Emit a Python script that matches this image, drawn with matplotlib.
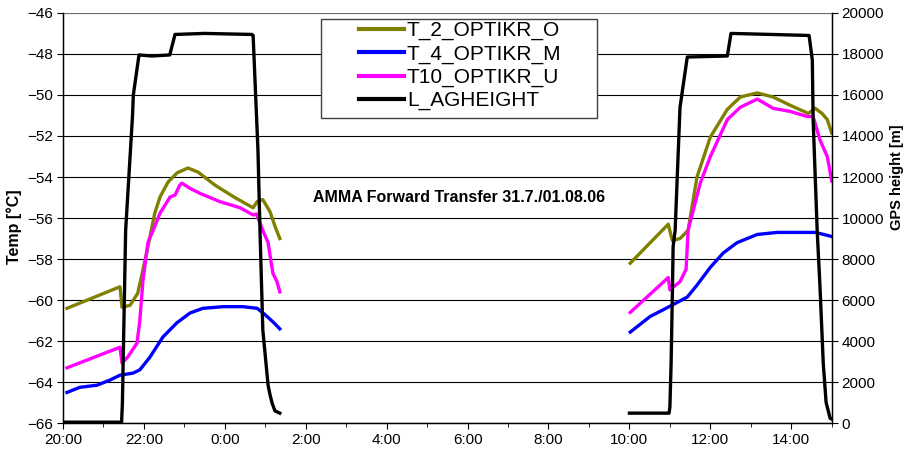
import numpy as np
import matplotlib
matplotlib.use('Agg')
import matplotlib.pyplot as plt
from matplotlib.ticker import MultipleLocator, FuncFormatter
from matplotlib.patches import Rectangle

plt.rcParams['font.family'] = ['Liberation Sans', 'DejaVu Sans']

# time axis: hours after 20:00 on 31.7. (0 .. 19 -> 20:00 .. 15:00)
t_o1 = [0.1, 1.41, 1.46, 1.66, 1.85, 1.98, 2.1, 2.27, 2.4, 2.6, 2.82, 3.09, 3.34, 3.76, 4.25, 4.7, 4.8, 4.94, 5.12, 5.24, 5.36]
T_o1 = [-60.4, -59.35, -60.35, -60.25, -59.66, -58.5, -57.4, -55.76, -54.97, -54.24, -53.8, -53.56, -53.76, -54.4, -55.0, -55.5, -55.2, -55.1, -55.7, -56.4, -57.0]
t_o2 = [14.02, 14.96, 15.06, 15.25, 15.45, 15.67, 16.0, 16.42, 16.74, 17.16, 17.55, 17.97, 18.42, 18.59, 18.76, 18.89, 19.0]
T_o2 = [-58.2, -56.3, -57.1, -57.0, -56.6, -54.0, -52.05, -50.7, -50.1, -49.9, -50.1, -50.5, -50.9, -50.65, -50.9, -51.2, -51.86]

t_u1 = [0.1, 1.41, 1.46, 1.6, 1.83, 1.9, 1.98, 2.1, 2.27, 2.4, 2.65, 2.77, 2.89, 2.94, 3.14, 3.39, 3.88, 4.38, 4.7, 4.78, 4.94, 5.07, 5.19, 5.29, 5.36]
T_u1 = [-63.3, -62.3, -63.07, -62.78, -62.1, -61.0, -59.0, -57.2, -56.4, -55.76, -54.97, -54.88, -54.39, -54.3, -54.55, -54.8, -55.2, -55.5, -55.85, -55.8, -56.6, -57.2, -58.7, -59.1, -59.6]
t_u2 = [14.02, 14.96, 15.0, 15.25, 15.4, 15.45, 15.75, 16.0, 16.42, 16.74, 17.16, 17.55, 17.97, 18.39, 18.54, 18.71, 18.89, 19.0]
T_u2 = [-60.6, -58.9, -59.5, -59.1, -58.5, -56.6, -54.3, -53.0, -51.2, -50.6, -50.2, -50.65, -50.8, -51.05, -51.05, -52.2, -53.0, -54.2]

t_m1 = [0.1, 0.42, 0.84, 1.16, 1.41, 1.73, 1.9, 2.15, 2.47, 2.82, 3.14, 3.46, 3.96, 4.45, 4.8, 4.99, 5.19, 5.36]
T_m1 = [-64.5, -64.25, -64.15, -63.9, -63.66, -63.56, -63.4, -62.78, -61.8, -61.1, -60.63, -60.4, -60.32, -60.32, -60.4, -60.7, -61.06, -61.4]
t_m2 = [14.02, 14.51, 15.06, 15.43, 15.67, 16.0, 16.32, 16.66, 17.16, 17.65, 18.22, 18.6, 19.0]
T_m2 = [-61.56, -60.8, -60.24, -59.85, -59.27, -58.4, -57.7, -57.2, -56.8, -56.7, -56.7, -56.7, -56.9]

t_h1 = [0.0, 1.45, 1.47, 1.55, 1.72, 1.74, 1.88, 2.2, 2.64, 2.77, 3.5, 4.67, 4.7, 4.82, 4.87, 4.94, 5.07, 5.12, 5.17, 5.24, 5.36]
H_h1 = [50, 50, 1000, 9400, 15000, 16000, 17950, 17900, 17950, 18950, 19000, 18950, 18900, 13300, 9400, 4540, 1850, 1370, 975, 600, 490]
t_h2 = [14.0, 14.98, 15.0, 15.03, 15.06, 15.08, 15.13, 15.25, 15.43, 16.42, 16.51, 17.5, 18.44, 18.52, 18.54, 18.64, 18.71, 18.79, 18.86, 18.96, 19.0]
H_h2 = [490, 490, 780, 2930, 6150, 8600, 9400, 15400, 17850, 17900, 19000, 18950, 18900, 17700, 14800, 9400, 6630, 2930, 1020, 240, 200]

fig = plt.figure(figsize=(9.12, 4.61), dpi=100)
ax = fig.add_axes([0.069, 0.082, 0.843, 0.890])
ax2 = ax.twinx()

lw = 2.4
l1, = ax.plot(t_o1, T_o1, color='#808000', lw=lw, label='T_2_OPTIKR_O')
ax.plot(t_o2, T_o2, color='#808000', lw=lw)
l2, = ax.plot(t_m1, T_m1, color='#0000ff', lw=lw, label='T_4_OPTIKR_M')
ax.plot(t_m2, T_m2, color='#0000ff', lw=lw)
l3, = ax.plot(t_u1, T_u1, color='#ff00ff', lw=lw, label='T10_OPTIKR_U')
ax.plot(t_u2, T_u2, color='#ff00ff', lw=lw)
l4, = ax2.plot(t_h1, H_h1, color='black', lw=lw, label='L_AGHEIGHT')
ax2.plot(t_h2, H_h2, color='black', lw=lw)

ax.set_xlim(0, 19)
ax.set_ylim(-66, -46)
ax2.set_ylim(0, 20000)

ax.xaxis.set_major_locator(MultipleLocator(2))
ax.xaxis.set_minor_locator(MultipleLocator(1))
ax.xaxis.set_major_formatter(FuncFormatter(lambda v, p: '%d:00' % ((20 + int(round(v))) % 24)))
ax.yaxis.set_major_locator(MultipleLocator(2))
ax2.yaxis.set_major_locator(MultipleLocator(2000))

for a in (ax, ax2):
    a.tick_params(which='both', direction='out', labelsize=11, color='black')
    a.tick_params(which='major', length=4, pad=3)
    a.tick_params(which='minor', length=3)
    a.spines['top'].set_visible(False)
ax.spines['left'].set_linewidth(1.0)
ax.spines['bottom'].set_linewidth(1.0)
ax2.spines['right'].set_linewidth(1.0)

ax.grid(axis='y', color='black', lw=0.8)
ax.set_axisbelow(True)
ax.axhline(-46, color='#808080', lw=1.2)

ax.set_ylabel('Temp [°C]', fontsize=11.5, fontweight='bold')
ax.yaxis.set_label_coords(-0.053, 0.478)
ax2.set_ylabel('GPS height [m]', fontsize=10.5, fontweight='bold')
ax2.yaxis.set_label_coords(1.076, 0.60)

ax.text(9.8, -55.0, 'AMMA Forward Transfer 31.7./01.08.06', fontsize=11.5,
        fontweight='bold', ha='center', va='center')

# legend frame drawn as its own box so it can be wider than the entries
box = Rectangle((321 / 912, 1 - 118 / 461), 276 / 912, 99 / 461,
                transform=fig.transFigure, facecolor='white',
                edgecolor='#404040', lw=1.0, zorder=5)
ax2.add_patch(box)
leg = ax2.legend(handles=[l1, l2, l3, l4], loc='upper left',
                 bbox_to_anchor=(359 / 912, 1 - 21 / 461),
                 bbox_transform=fig.transFigure, fontsize=15, frameon=False,
                 borderpad=0, labelspacing=0.2, handlelength=2.15,
                 handletextpad=0.15, borderaxespad=0)
leg.set_zorder(6)
for h in leg.legend_handles:
    h.set_linewidth(3)

fig.savefig('out.png', dpi=100)
